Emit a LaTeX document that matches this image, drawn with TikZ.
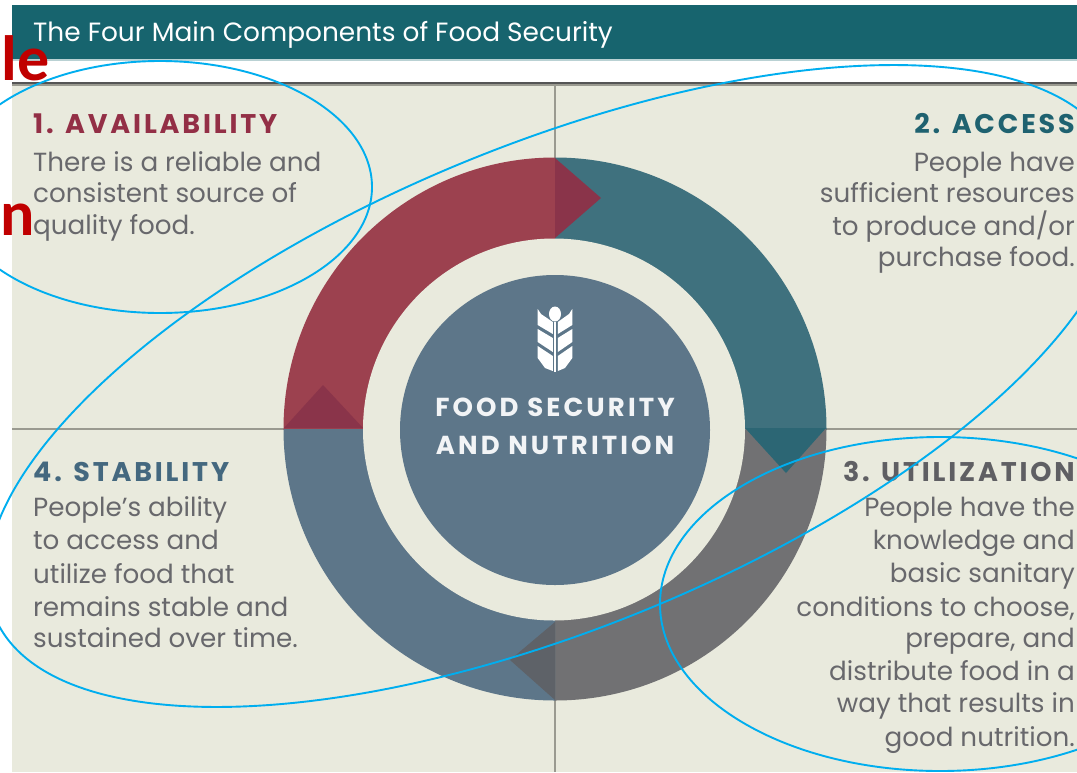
\documentclass[tikz,border=0pt]{standalone}
\usepackage{fontspec}
\setmainfont{Poppins}
\newfontfamily\redfont{Carlito}[BoldFont=Carlito Bold]
\definecolor{pagebg}{HTML}{E9EADD}
\definecolor{band}{HTML}{17646E}
\definecolor{rule}{HTML}{9A9A90}
\definecolor{ruledark}{HTML}{555555}
\definecolor{ringred}{HTML}{9C414F}
\definecolor{ringteal}{HTML}{3F717E}
\definecolor{ringgray}{HTML}{717173}
\definecolor{ringblue}{HTML}{5D7689}
\definecolor{arrred}{HTML}{8A344A}
\definecolor{arrteal}{HTML}{2C6674}
\definecolor{arrgray}{HTML}{5E6268}
\definecolor{headred}{HTML}{932F46}
\definecolor{headteal}{HTML}{1F6270}
\definecolor{headgray}{HTML}{5F5F63}
\definecolor{headblue}{HTML}{44687F}
\definecolor{bodygray}{HTML}{68686C}
\definecolor{markup}{HTML}{00AEEF}
\definecolor{markred}{HTML}{C00000}
\newcommand\headfont{\fontsize{27}{30}\selectfont\bfseries\addfontfeature{LetterSpace=10.5}}
\newcommand\centerfont{\fontsize{26}{30}\selectfont\bfseries\addfontfeature{LetterSpace=12}}
\tikzset{
  bodytext/.style={inner sep=0pt,text=bodygray,font=\fontsize{26.2}{30}\selectfont},
  headtext/.style={inner sep=0pt,font=\headfont},
  centertext/.style={inner sep=0pt,text=white!92!ringblue,font=\centerfont,anchor=base},
  markring/.style={draw=markup,line width=1.9pt},
  redmark/.style={inner sep=0pt,anchor=base east,text=markred,font=\redfont\bfseries\fontsize{64}{64}\selectfont},
  gridrule/.style={draw=rule,line width=2pt},
}
\newcommand\lineL[3]{\node[bodytext,anchor=base west] (#1) at (33,#2) {#3};}
\newcommand\lineR[3]{\node[bodytext,anchor=base east] (#1) at (1075,#2) {#3};}
\begin{document}
\begin{tikzpicture}[x=1pt,y=-1pt]
\useasboundingbox (0,0) rectangle (1077,772);
\begin{scope}
\clip (0,0) rectangle (1077,772);
\fill[white] (0,0) rectangle (1077,772);
\fill[pagebg] (12,85) rectangle (1077,772);
\fill[band] (12,5) rectangle (1077,59);
\fill[band!30!white] (12,59) rectangle (1077,61);
\fill[ruledark] (12,82) rectangle (1077,84);
\fill[rule] (12,84) rectangle (1077,86);
\node[inner sep=0pt,anchor=base west,text=white,font=\fontsize{26.4}{30}\selectfont] (title) at (33,41) {The Four Main Components of Food Security};
% grid
\draw[gridrule] (555,85) -- (555,772);
\draw[gridrule] (12,429) -- (1077,429);
% ring quadrants
\begin{scope}\clip (555,429) rectangle (270,145); \fill[ringred] (555,429) circle[radius=271.5]; \end{scope}
\begin{scope}\clip (555,429) rectangle (840,145); \fill[ringteal] (555,429) circle[radius=271.5]; \end{scope}
\begin{scope}\clip (555,429) rectangle (840,715); \fill[ringgray] (555,429) circle[radius=271.5]; \end{scope}
\begin{scope}\clip (555,429) rectangle (270,715); \fill[ringblue] (555,429) circle[radius=271.5]; \end{scope}
% arrow tips
\fill[arrred] (555,158) -- (601,198) -- (555,238) -- cycle;
\fill[arrteal] (745,428) -- (786,473) -- (826,428) -- cycle;
\fill[arrgray] (555,622) -- (510,660) -- (555,700) -- cycle;
\fill[arrred] (284,428) -- (323,385) -- (363,428) -- cycle;
% inner
\fill[pagebg] (554,429.5) circle[radius=191];
\fill[ringblue] (555,430) circle[radius=155];
% wheat
\begin{scope}[white]
\fill (555,314) ellipse[x radius=6,y radius=7.5];
\fill (554.2,322) rectangle (556.4,372);
\fill (537.7,309) -- (541,314) -- (552.8,322) -- (552.8,334) -- (537.7,325) -- cycle;
\fill (537.7,329) -- (552.8,338) -- (552.8,352) -- (537.7,342) -- cycle;
\fill (537.7,346) -- (552.8,356) -- (552.8,371) -- (545,368) -- (537.7,358) -- cycle;
\fill (572.3,309) -- (569,314) -- (557.8,322) -- (557.8,334) -- (572.3,325) -- cycle;
\fill (572.3,329) -- (557.8,338) -- (557.8,352) -- (572.3,342) -- cycle;
\fill (572.3,346) -- (557.8,356) -- (557.8,371) -- (565,368) -- (572.3,358) -- cycle;
\end{scope}
\node[centertext] (ctitleA) at (555,416) {FOOD SECURITY};
\node[centertext] (ctitleB) at (555,454.5) {AND NUTRITION};
% block 1
\node[headtext,anchor=base west,text=headred] (headA) at (33,133) {1. AVAILABILITY};
\lineL{a1}{171}{There is a reliable and}
\lineL{a2}{202}{consistent source of}
\lineL{a3}{234}{quality food.}
% block 2
\node[headtext,anchor=base east,text=headteal] (headB) at (1075,133) {2. ACCESS};
\lineR{b1}{171}{People have}
\lineR{b2}{202}{sufficient resources}
\lineR{b3}{235}{to produce and/or}
\lineR{b4}{266}{purchase food.}
% block 3
\node[headtext,anchor=base east,text=headgray] (headC) at (1075,481) {3. UTILIZATION};
\lineR{c1}{516}{People have the}
\lineR{c2}{549}{knowledge and}
\lineR{c3}{582}{basic sanitary}
\lineR{c4}{616}{conditions to choose,}
\lineR{c5}{647}{prepare, and}
\lineR{c6}{680}{distribute food in a}
\lineR{c7}{712}{way that results in}
\lineR{c8}{746}{good nutrition.}
% block 4
\node[headtext,anchor=base west,text=headblue] (headD) at (33,481) {4. STABILITY};
\lineL{d1}{516}{People's ability}
\lineL{d2}{549}{to access and}
\lineL{d3}{583}{utilize food that}
\lineL{d4}{616}{remains stable and}
\lineL{d5}{647}{sustained over time.}
% markup
\node[redmark] (redA) at (50,80) {le};
\node[redmark] (redB) at (35,235) {n};
\draw[markring] (160,187) ellipse[x radius=212,y radius=126];
\draw[markring,rotate around={22.35:(555,386)}] (555,386) ellipse[x radius=606,y radius=241.6];
\draw[markring] (940,604) ellipse[x radius=280,y radius=167];
\end{scope}
\end{tikzpicture}
\end{document}
